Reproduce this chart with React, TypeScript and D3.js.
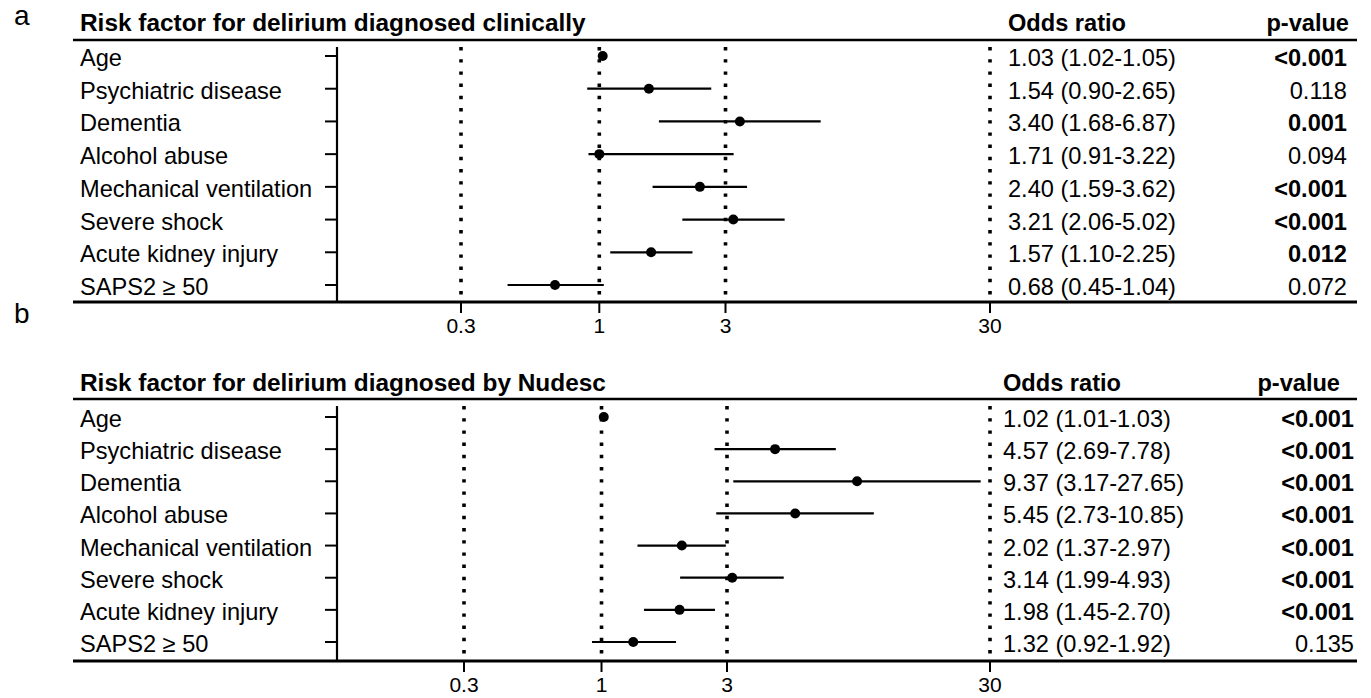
import React from "react";
import * as d3 from "d3";

const factors = [
  "Age",
  "Psychiatric disease",
  "Dementia",
  "Alcohol abuse",
  "Mechanical ventilation",
  "Severe shock",
  "Acute kidney injury",
  "SAPS2 \u2265 50",
];

// Panel a: delirium diagnosed clinically
const clinicalOR = [1.03, 1.54, 3.4, 1.71, 2.4, 3.21, 1.57, 0.68];
// point positions as drawn in the figure (alcohol abuse point is drawn at 1)
const clinicalPlotOR = [1.03, 1.54, 3.4, 1.0, 2.4, 3.21, 1.57, 0.68];
const clinicalLo = [1.02, 0.9, 1.68, 0.91, 1.59, 2.06, 1.1, 0.45];
const clinicalHi = [1.05, 2.65, 6.87, 3.22, 3.62, 5.02, 2.25, 1.04];
const clinicalP = ["<0.001", "0.118", "0.001", "0.094", "<0.001", "<0.001", "0.012", "0.072"];

// Panel b: delirium diagnosed by Nudesc
const nudescOR = [1.02, 4.57, 9.37, 5.45, 2.02, 3.14, 1.98, 1.32];
const nudescPlotOR = [1.02, 4.57, 9.37, 5.45, 2.02, 3.14, 1.98, 1.32];
const nudescLo = [1.01, 2.69, 3.17, 2.73, 1.37, 1.99, 1.45, 0.92];
const nudescHi = [1.03, 7.78, 27.65, 10.85, 2.97, 4.93, 2.7, 1.92];
const nudescP = ["<0.001", "<0.001", "<0.001", "<0.001", "<0.001", "<0.001", "<0.001", "0.135"];

const xTicks = [0.3, 1, 3, 30];
const xDomain = [0.3, 30];

const FONT = "'Liberation Sans', Arial, Helvetica, sans-serif";

type Layout = {
  letterY: number;
  titleY: number;
  ruleY: number;
  rowTop: number;
  rowBottom: number;
  axisY: number;
  x0: number;
  x1: number;
  orX: number;
  pHeadX: number;
  pX: number;
};

type PanelProps = {
  letter: string;
  title: string;
  or: number[];
  plotOr: number[];
  lo: number[];
  hi: number[];
  p: string[];
  L: Layout;
};

const fmt = (v: number) => v.toFixed(2);
const isSig = (p: string) => p.startsWith("<") || parseFloat(p) < 0.05;

function Panel({ letter, title, or, plotOr, lo, hi, p, L }: PanelProps) {
  const x = d3.scaleLog().domain(xDomain).range([L.x0, L.x1]);
  const y = d3
    .scalePoint<string>()
    .domain(factors)
    .range([L.rowTop, L.rowBottom]);
  const axisX = 337;
  const plotTop = L.ruleY + 7;
  const fs = 23.6;
  const tfs = 24.4;
  return (
    <g>
      <text x={14} y={L.letterY} fontSize={28} fontFamily={FONT}>
        {letter}
      </text>
      <text x={80} y={L.titleY} fontSize={tfs} fontWeight="bold" fontFamily={FONT}>
        {title}
      </text>
      <text x={L.orX} y={L.titleY} fontSize={fs} fontWeight="bold" fontFamily={FONT}>
        Odds ratio
      </text>
      <text x={L.pHeadX} y={L.titleY} fontSize={fs} fontWeight="bold" fontFamily={FONT} textAnchor="end">
        p-value
      </text>
      <line x1={73} x2={1357} y1={L.ruleY} y2={L.ruleY} stroke="#000" strokeWidth={2.6} />
      <line x1={73} x2={1357} y1={L.axisY} y2={L.axisY} stroke="#000" strokeWidth={2.8} />

      {/* reference dotted lines */}
      {xTicks.map((t) => (
        <line
          key={"d" + t}
          x1={x(t)}
          x2={x(t)}
          y1={plotTop}
          y2={L.axisY - 2}
          stroke="#000"
          strokeWidth={3.6}
          strokeDasharray="3.4 8.8"
        />
      ))}
      {/* x ticks */}
      {xTicks.map((t) => (
        <g key={"t" + t}>
          <line x1={x(t)} x2={x(t)} y1={L.axisY} y2={L.axisY + 11} stroke="#000" strokeWidth={2} />
          <text
            x={x(t)}
            y={L.axisY + 31}
            fontSize={21}
            fontFamily={FONT}
            textAnchor="middle"
          >
            {String(t)}
          </text>
        </g>
      ))}
      {/* y axis */}
      <line x1={axisX} x2={axisX} y1={plotTop} y2={L.axisY} stroke="#000" strokeWidth={2.2} />
      {factors.map((f, i) => {
        const yc = (y(f) as number) - 2;
        return (
          <g key={f}>
            <line x1={axisX - 12} x2={axisX} y1={yc} y2={yc} stroke="#000" strokeWidth={2} />
            <line x1={x(lo[i])} x2={x(hi[i])} y1={yc} y2={yc} stroke="#000" strokeWidth={2.2} />
            <circle cx={x(plotOr[i])} cy={yc} r={5} fill="#000" />
          </g>
        );
      })}
      {/* text columns */}
      {factors.map((f, i) => {
        const yb = (y(f) as number) + 8;
        return (
          <g key={"r" + f}>
            <text x={80} y={yb} fontSize={fs} fontFamily={FONT}>
              {f}
            </text>
            <text x={L.orX} y={yb} fontSize={fs} fontFamily={FONT}>
              {`${fmt(or[i])} (${fmt(lo[i])}-${fmt(hi[i])})`}
            </text>
            <text
              x={L.pX}
              y={yb}
              fontSize={fs}
              fontFamily={FONT}
              textAnchor="end"
              fontWeight={isSig(p[i]) ? "bold" : "normal"}
            >
              {p[i]}
            </text>
          </g>
        );
      })}
    </g>
  );
}

export default function App() {
  const layoutA: Layout = {
    letterY: 25,
    titleY: 31,
    ruleY: 40,
    rowTop: 58,
    rowBottom: 287,
    axisY: 302,
    x0: 461,
    x1: 990,
    orX: 1008,
    pHeadX: 1349,
    pX: 1347,
  };
  const layoutB: Layout = {
    letterY: 323,
    titleY: 391,
    ruleY: 399,
    rowTop: 419,
    rowBottom: 644,
    axisY: 661,
    x0: 464,
    x1: 990,
    orX: 1003,
    pHeadX: 1340,
    pX: 1354,
  };
  return (
    <svg
      width={1371}
      height={698}
      style={{ position: "absolute", left: 0, top: 0, background: "#fff" }}
    >
      <rect width={1371} height={698} fill="#fff" />
      <Panel
        letter="a"
        title="Risk factor for delirium diagnosed clinically"
        or={clinicalOR}
        plotOr={clinicalPlotOR}
        lo={clinicalLo}
        hi={clinicalHi}
        p={clinicalP}
        L={layoutA}
      />
      <Panel
        letter="b"
        title="Risk factor for delirium diagnosed by Nudesc"
        or={nudescOR}
        plotOr={nudescPlotOR}
        lo={nudescLo}
        hi={nudescHi}
        p={nudescP}
        L={layoutB}
      />
    </svg>
  );
}
